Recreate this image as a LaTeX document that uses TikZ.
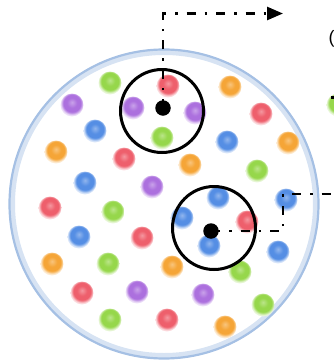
\documentclass[tikz,border=0pt]{standalone}
\usepackage{fontspec}
\setmainfont{Liberation Sans}
\usetikzlibrary{arrows.meta}
\definecolor{pred}{RGB}{238,95,108}
\definecolor{ppur}{RGB}{172,112,222}
\definecolor{pblu}{RGB}{85,142,228}
\definecolor{pora}{RGB}{245,165,55}
\definecolor{pgrn}{RGB}{150,215,75}
\definecolor{bcirc}{RGB}{165,192,228}
\newcommand\mkblob[1]{\pgfdeclareradialshading{blob#1}{\pgfqpoint{0bp}{6bp}}{color(0bp)=(#1!65!white); color(11bp)=(#1); color(19bp)=(#1); color(25bp)=(#1!20!white); color(50bp)=(white)}}
\mkblob{pred}\mkblob{ppur}\mkblob{pblu}\mkblob{pora}\mkblob{pgrn}
\tikzset{
  particle/.style={circle, minimum size=23pt, inner sep=0pt, shading=blob#1},
  probe/.style={circle, draw=black, line width=3pt, minimum size=83pt, inner sep=0pt},
  centerdot/.style={circle, fill=black, minimum size=15.5pt, inner sep=0pt},
  dashdotline/.style={line width=2.7pt, dash pattern=on 9pt off 9pt on 2.5pt off 9pt},
}
\begin{document}
\begin{tikzpicture}[x=1pt,y=-1pt]
\useasboundingbox (0,0) rectangle (334,362);
\node[circle, draw=bcirc!45!white, line width=6pt, minimum size=304pt, inner sep=0pt] (glow) at (164,204) {};
\node[circle, draw=bcirc, line width=2.2pt, minimum size=309pt, inner sep=0pt] (big) at (164,204) {};
\foreach \x/\y/\c [count=\i] in {
 110/83/pgrn, 168/86/pred, 230/87/pora, 72/105/ppur, 133/108/ppur, 195/113/ppur, 261/114/pred,
 95/131/pblu, 162/138/pgrn, 227/142/pblu, 288/143/pora, 56/152/pora, 124/159/pred, 190/165/pora,
 257/171/pgrn, 85/183/pblu, 152/187/ppur, 50/208/pred, 113/212/pgrn, 218/198/pblu, 286/200/pblu,
 182/218/pblu, 247/222/pred, 79/237/pblu, 142/238/pred, 209/246/pblu, 278/252/pblu, 52/264/pora,
 108/264/pgrn, 172/267/pora, 240/272/pgrn, 82/293/pred, 137/292/ppur, 203/295/ppur, 263/305/pgrn,
 110/320/pgrn, 167/320/pred, 225/327/pora, 338/105/pgrn}
 \node[particle=\c] (p\i) at (\x,\y) {};
\node[probe] (c1) at (162,111) {};
\node[probe] (c2) at (214,228) {};
\node[centerdot] (d1) at (163,108) {};
\node[centerdot] (d2) at (211,231) {};
\coordinate (t1) at (283,13.5);
\coordinate (k2) at (283,231);
\coordinate (k3) at (283,194);
\coordinate (e2) at (338,194);
\draw[dashdotline, -{Triangle[length=16pt,width=13pt]}] (d1.center) |- (t1);
\draw[dashdotline] (d2.center) -- (k2) -- (k3) -- (e2);
\coordinate (l1) at (331,97.5);
\coordinate (l2) at (338,97.5);
\draw[line width=2.7pt] (l1) -- (l2);
\node[anchor=base west, inner sep=0pt, font=\fontsize{18}{20}\selectfont] (lab) at (328.5,43) {(};
\end{tikzpicture}
\end{document}
